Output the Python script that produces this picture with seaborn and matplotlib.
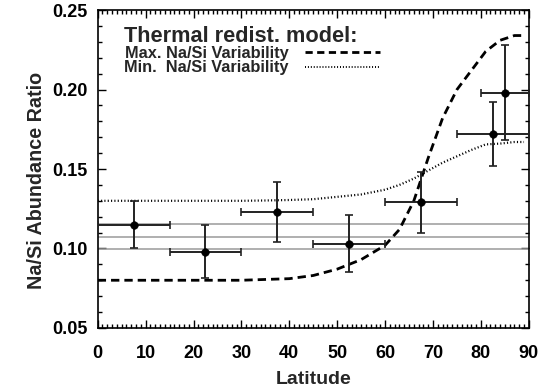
import numpy as np
import pandas as pd
import matplotlib
matplotlib.use("Agg")
import matplotlib.pyplot as plt
import seaborn as sns
from matplotlib.lines import Line2D
from matplotlib.ticker import MultipleLocator, FormatStrFormatter

# ---- data ----
lat_model = [0, 10, 20, 30, 35, 40, 45, 50, 55, 60, 63, 66, 69, 72, 75, 78, 81, 84, 87, 89]
max_var = [0.080, 0.080, 0.080, 0.080, 0.0805, 0.081, 0.083, 0.087, 0.093, 0.102,
           0.112, 0.130, 0.157, 0.182, 0.200, 0.212, 0.224, 0.231, 0.234, 0.234]
min_var = [0.130, 0.130, 0.130, 0.130, 0.1302, 0.1305, 0.131, 0.1325, 0.134, 0.137,
           0.140, 0.144, 0.149, 0.154, 0.158, 0.162, 0.1655, 0.166, 0.167, 0.167]

obs_lat = [7.5, 22.5, 37.5, 52.5, 67.5, 82.5, 85.0]
obs_ratio = [0.115, 0.098, 0.123, 0.103, 0.129, 0.172, 0.198]
obs_err_lo = [0.015, 0.0165, 0.019, 0.018, 0.019, 0.020, 0.030]
obs_err_hi = [0.015, 0.0165, 0.019, 0.018, 0.019, 0.020, 0.030]
obs_lat_lo = [0, 15, 30, 45, 60, 75, 80]
obs_lat_hi = [15, 30, 45, 60, 75, 90, 90]

ref_lines = [0.1152, 0.1073, 0.0995]

labels = ["Max. Na/Si Variability", "Min.  Na/Si Variability"]
title = "Thermal redist. model:"

# ---- style ----
sns.set_theme(style="ticks")
plt.rcParams['font.family'] = ['Liberation Sans', 'DejaVu Sans']
plt.rcParams['font.weight'] = 'bold'

fig = plt.figure(figsize=(5.52, 3.89), dpi=100)
ax = fig.add_axes([0.177, 0.157, 0.781, 0.817])

for y in ref_lines:
    ax.axhline(y, color="#9a9a9a", lw=1.1, zorder=1)

df_model = pd.DataFrame({"lat": lat_model, "max": max_var, "min": min_var})
sns.lineplot(data=df_model, x="lat", y="max", ax=ax, color="black", lw=2.0,
             zorder=3)
sns.lineplot(data=df_model, x="lat", y="min", ax=ax, color="black", lw=1.6,
             zorder=3)
ax.lines[-2].set_dashes((3.0, 1.8))
ax.lines[-1].set_dashes((0.5, 1.0))

xerr = np.array([np.array(obs_lat) - np.array(obs_lat_lo),
                 np.array(obs_lat_hi) - np.array(obs_lat)])
yerr = np.array([obs_err_lo, obs_err_hi])
ax.errorbar(obs_lat, obs_ratio, xerr=xerr, yerr=yerr, fmt="none",
            ecolor="#222222", elinewidth=1.4, capsize=3, capthick=1.2, zorder=4)
sns.scatterplot(x=obs_lat, y=obs_ratio, ax=ax, color="black", s=30,
                edgecolor="black", zorder=5)

ax.set_xlim(0, 90)
ax.set_ylim(0.05, 0.25)
ax.xaxis.set_major_locator(MultipleLocator(10))
ax.xaxis.set_minor_locator(MultipleLocator(1))
ax.yaxis.set_major_locator(MultipleLocator(0.05))
ax.yaxis.set_minor_locator(MultipleLocator(0.01))
ax.yaxis.set_major_formatter(FormatStrFormatter("%.2f"))
ax.tick_params(which="both", direction="in", top=True, right=True,
               labelsize=13, colors="black", width=1.0)
ax.tick_params(which="major", length=6)
ax.tick_params(which="minor", length=3)
ax.tick_params(axis="x", which="major", pad=12)
ax.tick_params(axis="y", which="major", pad=7)
for lab in ax.get_xticklabels() + ax.get_yticklabels():
    lab.set_fontweight("bold")
for s in ax.spines.values():
    s.set_linewidth(1.2)
    s.set_color("black")

ax.set_xlabel("Latitude", fontsize=14, fontweight="bold", labelpad=6.5)
ax.set_ylabel("Na/Si Abundance Ratio", fontsize=14.2, fontweight="bold")
ax.yaxis.set_label_coords(-0.12, 0.465)

handles = [Line2D([], [], color="black", lw=2.0, dashes=(2.6, 1.6)),
           Line2D([], [], color="black", lw=1.4, dashes=(0.5, 1.0))]
leg = ax.legend(handles, labels, title=title, loc="upper left",
                bbox_to_anchor=(0.0447, 0.972), frameon=False,
                markerfirst=False, handlelength=4.6, handletextpad=1.0,
                labelspacing=-0.05, fontsize=11.8, title_fontsize=15.7,
                alignment="left", borderaxespad=0, borderpad=0.42)
leg.get_title().set_fontweight("bold")
for t in leg.get_texts():
    t.set_fontweight("bold")

fig.savefig("out.png", dpi=100)
